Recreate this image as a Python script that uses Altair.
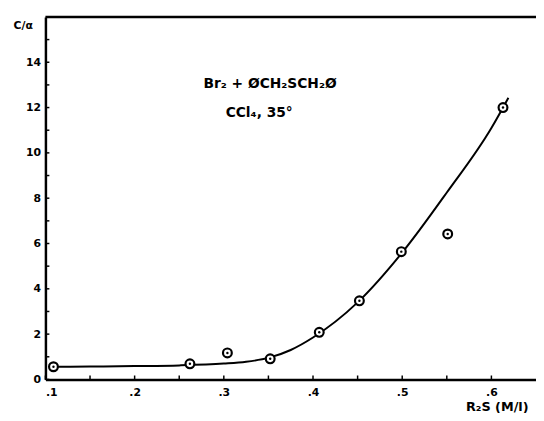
import altair as alt
import pandas as pd

# Measured points (R2S concentration, C/alpha)
x_pts = [0.109, 0.262, 0.304, 0.352, 0.407, 0.452, 0.499, 0.551, 0.613]
y_pts = [0.56, 0.69, 1.17, 0.91, 2.08, 3.47, 5.64, 6.42, 12.0]

# Hand-drawn smooth curve
curve_x = [0.109, 0.15, 0.2, 0.25, 0.3, 0.325, 0.35, 0.375, 0.4, 0.45, 0.5, 0.55, 0.6, 0.619]
curve_y = [0.56, 0.57, 0.59, 0.62, 0.7, 0.78, 0.95, 1.3, 1.85, 3.4, 5.6, 8.25, 11.1, 12.43]

# Tick values
x_major = [0.1, 0.2, 0.3, 0.4, 0.5, 0.6]
x_minor = [0.15, 0.25, 0.35, 0.45, 0.55]
y_major = [0, 2, 4, 6, 8, 10, 12, 14]
y_minor = [1, 3, 5, 7, 9, 11, 13, 15]

label1 = "Br₂ + ØCH₂SCH₂Ø"
label2 = "CCl₄, 35°"

FONT = "DejaVu Sans"
W, H = 498, 368
xs = alt.Scale(domain=[0.1, 0.65], nice=False, zero=False)
ys = alt.Scale(domain=[0, 16], nice=False, zero=False)

pts = pd.DataFrame({"x": x_pts, "y": y_pts})
curve = pd.DataFrame({"x": curve_x, "y": curve_y})
xt = pd.DataFrame({"t": x_major + x_minor})
yt = pd.DataFrame({"t": y_major + y_minor})

xaxis = alt.Axis(
    values=x_major, labelExpr="'.' + round(datum.value*10)", ticks=False, grid=False,
    domainColor="black", domainWidth=2.5, labelFont=FONT, labelFontSize=11,
    labelFontWeight="bold", labelColor="black", labelPadding=7,
    title="R₂S (M/l)", titleFont=FONT, titleFontSize=13, titleFontWeight="bold",
    titleColor="black", titleX=490, titleY=28, titleAlign="right", titleBaseline="middle",
)
yaxis = alt.Axis(
    values=y_major, ticks=False, grid=False, domainColor="black", domainWidth=2.5,
    labelFont=FONT, labelFontSize=11, labelFontWeight="bold", labelColor="black",
    labelPadding=5,
    title="C/α", titleFont=FONT, titleFontSize=11, titleFontWeight="bold",
    titleColor="black", titleAngle=0, titleX=-23, titleY=9, titleAlign="center",
    titleBaseline="middle",
)

base_line = alt.Chart(curve).mark_line(
    color="black", strokeWidth=2, interpolate="monotone"
).encode(
    x=alt.X("x:Q", scale=xs, axis=xaxis),
    y=alt.Y("y:Q", scale=ys, axis=yaxis),
)

top_rule = alt.Chart(pd.DataFrame({"a": [0]})).mark_rule(
    color="black", strokeWidth=2.5
).encode(x=alt.value(0), x2=alt.value(W), y=alt.value(0))

xticks = alt.Chart(xt).mark_rule(color="black", strokeWidth=1.5).encode(
    x=alt.X("t:Q", scale=xs), y=alt.value(H), y2=alt.value(H - 4)
)
yticks = alt.Chart(yt).mark_rule(color="black", strokeWidth=1.5).encode(
    y=alt.Y("t:Q", scale=ys), x=alt.value(0), x2=alt.value(4)
)

rings = alt.Chart(pts).mark_point(
    shape="circle", filled=True, fill="white", stroke="black", strokeWidth=2.2,
    size=80, opacity=1
).encode(x=alt.X("x:Q", scale=xs), y=alt.Y("y:Q", scale=ys))

dots = alt.Chart(pts).mark_circle(color="black", size=6, opacity=1).encode(
    x=alt.X("x:Q", scale=xs), y=alt.Y("y:Q", scale=ys)
)

txt1 = alt.Chart(pd.DataFrame({"s": [label1]})).mark_text(
    font=FONT, fontSize=14, fontWeight="bold", color="black", align="center", baseline="middle"
).encode(text="s:N", x=alt.value(228), y=alt.value(68))
txt2 = alt.Chart(pd.DataFrame({"s": [label2]})).mark_text(
    font=FONT, fontSize=14, fontWeight="bold", color="black", align="center", baseline="middle"
).encode(text="s:N", x=alt.value(217), y=alt.value(98))

chart = alt.layer(
    base_line, top_rule, xticks, yticks, rings, dots, txt1, txt2
).properties(
    width=W, height=H,
    autosize=alt.AutoSizeParams(type="none"),
    padding={"left": 38, "top": 6, "right": 0, "bottom": 31},
    background="white",
).configure_view(strokeWidth=0)

chart.save("out.html", embed_options={"renderer": "svg", "actions": False})
